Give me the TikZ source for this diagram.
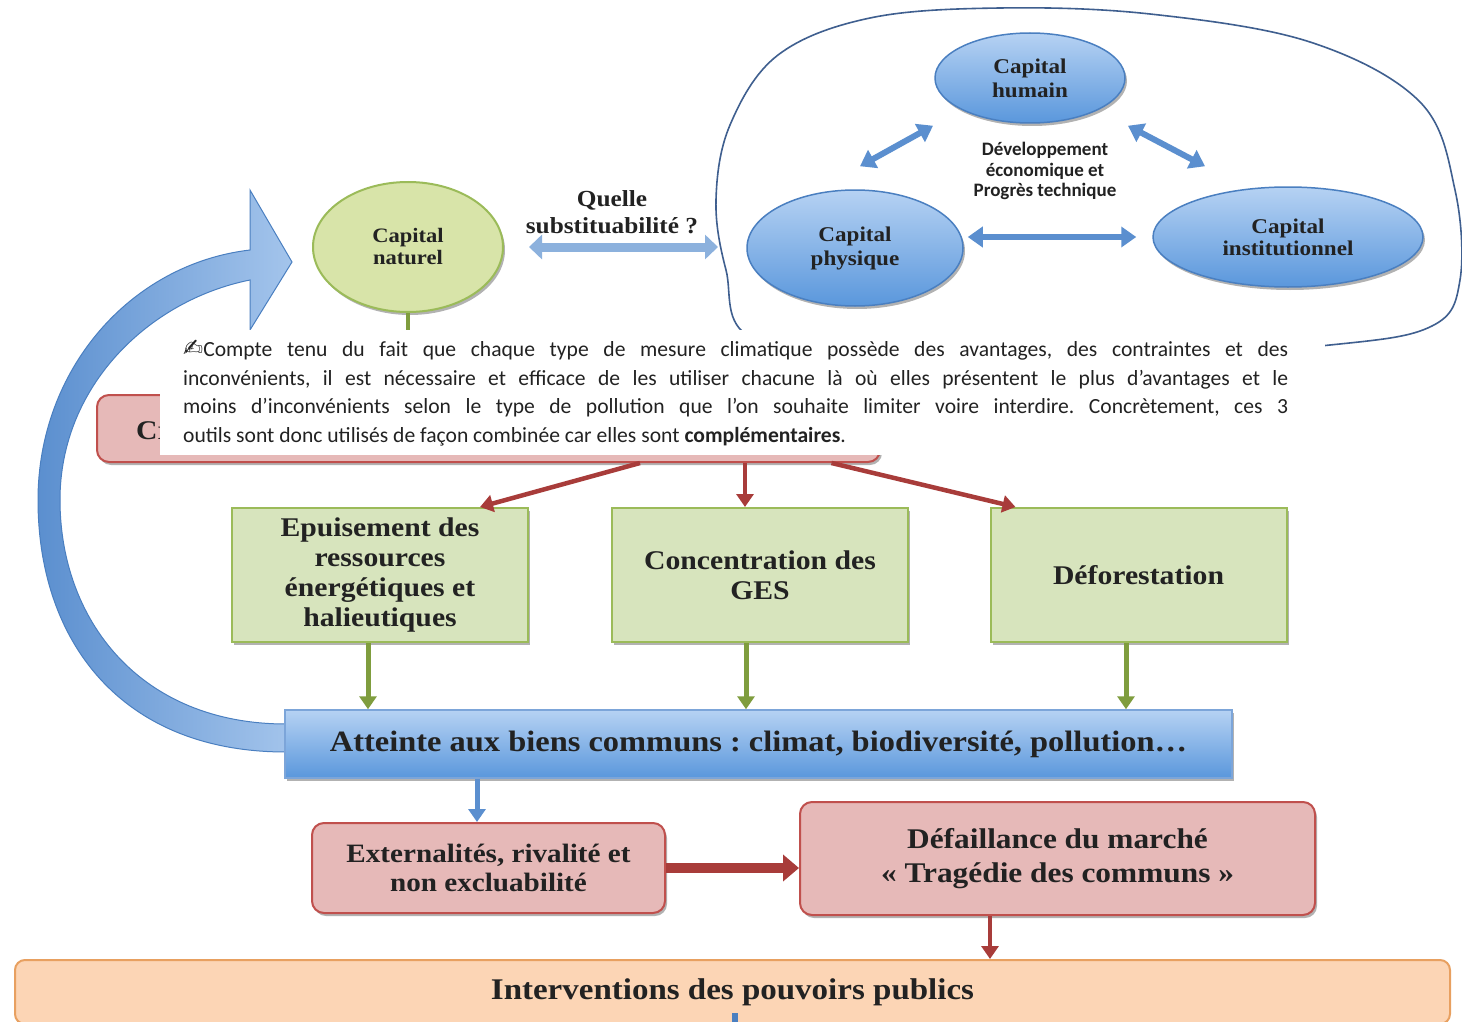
\documentclass[tikz,border=0pt]{standalone}
\usepackage{fontspec}
\setmainfont{Liberation Serif}
\newfontfamily\camfont[FakeStretch=1.1]{Liberation Serif}
\newfontfamily\calfont{Carlito}
\newfontfamily\symfont{DejaVu Sans}
\usetikzlibrary{arrows.meta,shadows,shapes.geometric}
\definecolor{grnF}{HTML}{D7E4BD}
\definecolor{grnB}{HTML}{9BBB59}
\definecolor{grnA}{HTML}{7F9D3E}
\definecolor{natF}{HTML}{D8E4A9}
\definecolor{bluT}{HTML}{B6D2F3}
\definecolor{bluB}{HTML}{5A97DC}
\definecolor{bluD}{HTML}{4A7FC0}
\definecolor{bluA}{HTML}{5B8FCF}
\definecolor{redF}{HTML}{E6B9B8}
\definecolor{redB}{HTML}{C0504D}
\definecolor{redA}{HTML}{A83C3A}
\definecolor{orF}{HTML}{FCD5B5}
\definecolor{orB}{HTML}{E8A060}
\definecolor{loopC}{HTML}{3F5F8F}
\definecolor{txt}{HTML}{222222}
\frenchspacing
\tikzset{
  shad/.style={drop shadow={shadow xshift=2pt,shadow yshift=-3pt,opacity=0.3,fill=black}},
  gbox/.style={rectangle, draw=grnB, line width=2pt, fill=grnF, minimum width=296pt,
    minimum height=134pt, inner sep=2pt, align=center, text=txt, shad,
    font=\camfont\bfseries\fontsize{27}{30}\selectfont},
  rbox/.style={rectangle, rounded corners=12pt, draw=redB, line width=2pt, fill=redF,
    align=center, text=txt, inner sep=2pt, shad},
  bell/.style={ellipse, draw=bluD, line width=1.5pt, top color=bluT, bottom color=bluB,
    inner sep=0pt, align=center, text=txt, shad,
    font=\camfont\bfseries\fontsize{21}{24}\selectfont},
  garrow/.style={draw=grnA, line width=5pt, -{Triangle[width=17pt,length=13pt]}},
  rarrow/.style={draw=redA, line width=4.5pt, -{Triangle[width=17pt,length=13pt]}},
  barrow/.style={draw=bluA, line width=6pt, {Triangle[width=20pt,length=15pt]}-{Triangle[width=20pt,length=15pt]}},
  loopline/.style={draw=loopC, line width=1.6pt},
}
\begin{document}
\begin{tikzpicture}[x=1pt,y=-1pt]
\useasboundingbox[fill=white] (0,0) rectangle (1462,1022);

% hand-drawn loop
\draw[loopline] plot[smooth cycle, tension=0.6] coordinates {(752,338) (726,270) (716,200) (730,125) (778,55) (870,18) (1000,8) (1150,14) (1310,42) (1420,102) (1455,190) (1460,280) (1432,326) (1330,345) (1100,360) (900,356)};

% big curved return arrow
\path[left color=bluA, right color=bluT!80!bluA, draw=bluD, line width=1pt]
  (286,752) .. controls (120,752) and (38,640) .. (38,500)
  .. controls (38,370) and (130,264) .. (250,250)
  -- (250,190) -- (292,262) -- (250,330) -- (250,280)
  .. controls (150,300) and (60,385) .. (60,500)
  .. controls (60,620) and (140,724) .. (286,724) -- cycle;

% capital naturel
\node[ellipse, draw=grnB, line width=2pt, fill=natF, minimum width=190pt, minimum height=130pt,
  inner sep=0pt, align=center, text=txt, shad, font=\camfont\bfseries\fontsize{20.5}{22}\selectfont]
  (nat) at (408,247) {Capital\\naturel};

\node[align=center, text=txt, font=\camfont\bfseries\fontsize{23}{27}\selectfont] (quelle) at (612,212) {Quelle\\substituabilité ?};
\coordinate (qb) at (718,247);
\draw[draw=bluA!70!white, line width=9pt, shorten <=25pt,
  {Triangle[width=24pt,length=13pt]}-{Triangle[width=24pt,length=13pt]}] (nat.east) -- (qb);

% blue capitals
\node[bell, minimum width=190pt, minimum height=90pt] (hum) at (1030,78) {Capital\\humain};
\node[bell, minimum width=216pt, minimum height=116pt] (phys) at (855,248) {Capital\\physique};
\node[bell, minimum width=270pt, minimum height=100pt, font=\camfont\bfseries\fontsize{21}{22}\selectfont] (inst) at (1288,237) {Capital\\institutionnel};
\node[align=center, text=txt, font=\calfont\bfseries\fontsize{19}{20.5}\selectfont] (dev) at (1045,171) {Développement\\économique et\\Progrès technique};

\draw[barrow] ([shift={(5pt,23pt)}]phys.north) -- ([shift={(-97pt,-2pt)}]hum.south);
\draw[barrow] ([shift={(98pt,-2pt)}]hum.south) -- ([shift={(-83pt,20pt)}]inst.north);
\draw[barrow] ([shift={(4pt,11pt)}]phys.east) -- ([xshift=-16pt]inst.west);

% hidden red box
\node[rbox, minimum width=783pt, minimum height=67pt] (crit) at (488.5,428.5) {};
\node[anchor=west, inner sep=0pt, text=txt, font=\camfont\bfseries\fontsize{27}{30}\selectfont] (crl) at (136,431) {Cr};
\draw[draw=grnA, line width=4pt] (nat.south) -- (nat.south |- crit.north);

% pasted text overlay
\node[fill=white, minimum width=1165pt, minimum height=125pt, inner sep=0pt, anchor=north west] (ovl) at (160,330) {};
\node[anchor=north west, inner sep=0pt, text width=1105pt, align=justify, text=txt,
  font=\calfont\fontsize{21.6}{28.7}\selectfont] (para) at (183,340)
  {{\symfont\fontsize{24}{24}\selectfont ✍}Compte tenu du fait que chaque type de mesure climatique possède des avantages, des contraintes et des\linebreak
  inconvénients, il est nécessaire et efficace de les utiliser chacune là où elles présentent le plus d’avantages et le\linebreak
  moins d’inconvénients selon le type de pollution que l’on souhaite limiter voire interdire. Concrètement, ces 3\linebreak
  outils sont donc utilisés de façon combinée car elles sont \textbf{complémentaires}.};

% green boxes
\node[gbox] (g1) at (380,575) {Epuisement des\\ressources\\énergétiques et\\halieutiques};
\node[gbox] (g2) at (760,575) {Concentration des\\GES};
\node[gbox] (g3) at (1138.5,575) {Déforestation};

\draw[rarrow] ([xshift=151.5pt]crit.south) -- ([xshift=100pt]g1.north);
\draw[rarrow] ([xshift=256.5pt]crit.south) -- ([xshift=-15pt]g2.north);
\draw[rarrow] ([xshift=343pt]crit.south) -- ([xshift=-123pt]g3.north);

% blue bar
\node[rectangle, draw=bluA!80!white, line width=1.5pt, top color=bluT, bottom color=bluB,
  minimum width=947pt, minimum height=68pt, text=txt, shad,
  font=\camfont\bfseries\fontsize{29.5}{30}\selectfont] (bar) at (758.5,744)
  {Atteinte aux biens communs : climat, biodiversité, pollution…};

\draw[garrow] ([xshift=-12pt]g1.south) -- ([xshift=-12pt]g1.south |- bar.north);
\draw[garrow] ([xshift=-14pt]g2.south) -- ([xshift=-14pt]g2.south |- bar.north);
\draw[garrow] ([xshift=-12.5pt]g3.south) -- ([xshift=-12.5pt]g3.south |- bar.north);

% lower red boxes
\node[rbox, minimum width=353pt, minimum height=90pt, font=\camfont\bfseries\fontsize{26.5}{29}\selectfont] (ext) at (488.5,868) {Externalités, rivalité et\\non excluabilité};
\node[rbox, minimum width=515pt, minimum height=113pt, font=\camfont\bfseries\fontsize{28.5}{34}\selectfont] (def) at (1057.5,858.5) {Défaillance du marché\\« Tragédie des communs »};

\draw[draw=bluA, line width=5pt, -{Triangle[width=17pt,length=13pt]}] ([xshift=-11.5pt]ext.north |- bar.south) -- ([xshift=-11.5pt]ext.north);
\draw[draw=redA, line width=10pt, -{Triangle[width=26pt,length=16pt]}] (ext.east) -- (ext.east -| def.west);

% orange box
\node[rectangle, rounded corners=10pt, draw=orB, line width=2pt, fill=orF, minimum width=1435pt,
  minimum height=64pt, text=txt, font=\camfont\bfseries\fontsize{30}{32}\selectfont] (pub) at (732.5,992)
  {Interventions des pouvoirs publics};
\draw[rarrow] ([xshift=-67.5pt]def.south) -- ([xshift=-67.5pt]def.south |- pub.north);
\coordinate (stub) at (735,1013);
\draw[draw=bluD, line width=6pt] (stub) -- ++(0,15);
\end{tikzpicture}
\end{document}
